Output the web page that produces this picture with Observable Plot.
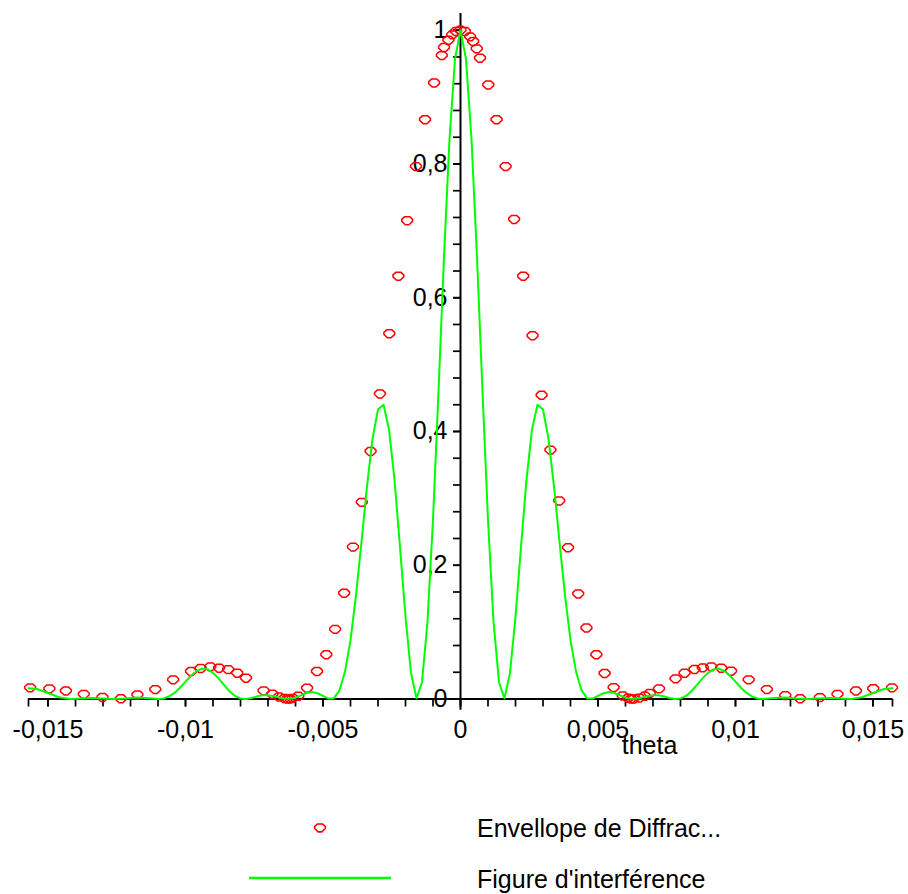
<!DOCTYPE html>
<html><head><meta charset="utf-8">
<script src="https://cdn.jsdelivr.net/npm/d3@7"></script>
<script src="https://cdn.jsdelivr.net/npm/@observablehq/plot@0.6"></script>
<style>
body{margin:0;background:#fff;font-family:"Liberation Sans",Arial,sans-serif;}
#legend{position:relative;width:908px;height:124px;}
.lg{position:absolute;font-size:25px;line-height:1;color:#000;white-space:nowrap;}
</style></head><body>
<div id="chart"></div>
<div id="legend">
  <svg style="position:absolute;left:0;top:0" width="908" height="124">
    <path d="M-2.6,-4L2.6,-4L5.4,-1.4L5.4,0.5L1.8,3.9L-1.8,3.9L-5.4,0.5L-5.4,-1.4Z" transform="translate(320,58)" fill="none" stroke="#ff0000" stroke-width="1.6"/>
    <line x1="249" x2="391" y1="108" y2="108" stroke="#00ff00" stroke-width="2.6"/>
  </svg>
  <div class="lg" style="left:477px;top:46px">Envellope de Diffrac...</div>
  <div class="lg" style="left:477px;top:97px">Figure d'interférence</div>
</div>
<script>
// ---- data ----
const thetaRed = [-0.01565,-0.01495,-0.01435,-0.0137,-0.01302,-0.01235,-0.01175,-0.0111,-0.01045,-0.0098,-0.00945,-0.0091,-0.00878,-0.00845,-0.00812,-0.0078,-0.00716,-0.00684,-0.0066,-0.0064,-0.0063,-0.0062,-0.0061,-0.0059,-0.00558,-0.00522,-0.00488,-0.00456,-0.00423,-0.00391,-0.00359,-0.00327,-0.00293,-0.00259,-0.00226,-0.00194,-0.00162,-0.00129,-0.00096,-0.00068,-0.0006,-0.00044,-0.0003,-0.00016,0,0.00016,0.00035,0.00046,0.00059,0.00071,0.00101,0.00131,0.00164,0.00195,0.00228,0.00262,0.00295,0.00327,0.00359,0.00391,0.00428,0.00458,0.00494,0.00524,0.00557,0.0059,0.0061,0.0062,0.0063,0.0065,0.0067,0.00688,0.00722,0.00782,0.00815,0.00851,0.00881,0.00912,0.00948,0.00984,0.01048,0.01114,0.01181,0.01235,0.01307,0.01371,0.01438,0.01501,0.01569];
const envelopeRed = [0.0165,0.015,0.0118,0.0068,0.0022,0.0002,0.006,0.014,0.0285,0.041,0.0455,0.048,0.046,0.0438,0.0385,0.031,0.012,0.007,0.003,0.0006,0,0,0.0008,0.004,0.016,0.041,0.066,0.104,0.158,0.227,0.294,0.37,0.456,0.546,0.632,0.715,0.796,0.866,0.921,0.962,0.974,0.985,0.993,0.998,1,0.998,0.99,0.983,0.972,0.958,0.918,0.866,0.796,0.717,0.632,0.543,0.454,0.372,0.296,0.226,0.157,0.106,0.066,0.038,0.017,0.0045,0.001,0,0,0.0012,0.004,0.0082,0.015,0.03,0.0385,0.044,0.0465,0.048,0.046,0.0415,0.0285,0.014,0.005,0.0002,0.002,0.0068,0.0118,0.0152,0.0165];

const thetaGreen = [-0.01571,-0.0154,-0.015,-0.0146,-0.0142,-0.0138,-0.0134,-0.013,-0.0126,-0.0122,-0.0118,-0.0114,-0.011,
-0.0108,-0.0106,-0.0104,-0.0102,-0.01,-0.0098,-0.0096,-0.0094,-0.0092,-0.009,-0.0088,-0.0086,-0.0084,-0.0082,-0.008,-0.0078,-0.0076,-0.0074,-0.0072,-0.007,-0.0068,-0.0066,-0.0064,-0.0062,-0.006,-0.0058,-0.0056,-0.0054,-0.0052,-0.005,-0.0048,-0.0046,-0.0044,-0.0042,-0.004,-0.0038,-0.0036,-0.0034,-0.0032,-0.003,-0.0028,-0.0026,-0.0024,-0.0022,-0.002,-0.0018,-0.0016,-0.0014,-0.0012,-0.001,-0.0008,-0.0006,-0.0004,-0.0002,
0,
0.0002,0.0004,0.0006,0.0008,0.001,0.0012,0.0014,0.0016,0.0018,0.002,0.0022,0.0024,0.0026,0.0028,0.003,0.0032,0.0034,0.0036,0.0038,0.004,0.0042,0.0044,0.0046,0.0048,0.005,0.0052,0.0054,0.0056,0.0058,0.006,0.0062,0.0064,0.0066,0.0068,0.007,0.0072,0.0074,0.0076,0.0078,0.008,0.0082,0.0084,0.0086,0.0088,0.009,0.0092,0.0094,0.0096,0.0098,0.01,0.0102,0.0104,0.0106,0.0108,
0.011,0.0114,0.0118,0.0122,0.0126,0.013,0.0134,0.0138,0.0142,0.0146,0.015,0.0154,0.01571];
const interferenceGreen = [0.0162,0.0149,0.009,0.0027,0,0.0008,0.0016,0.0009,0,0.0008,0.0021,0.0014,0,
0.0009,0.0038,0.0091,0.0168,0.0259,0.0348,0.0418,0.0455,0.0443,0.0392,0.0308,0.021,0.0116,0.0046,0.0008,0.0001,0.0016,0.0039,0.0056,0.0057,0.0043,0.0021,0.0003,0.0002,0.002,0.0055,0.009,0.0105,0.0086,0.0046,0.0006,0.0013,0.013,0.041,0.088,0.155,0.235,0.318,0.389,0.433,0.44,0.403,0.328,0.227,0.123,0.039,0.001,0.025,0.116,0.268,0.46,0.661,0.837,0.957,
1,
0.957,0.837,0.661,0.46,0.268,0.116,0.025,0.001,0.039,0.123,0.227,0.328,0.403,0.44,0.433,0.389,0.318,0.235,0.155,0.088,0.041,0.013,0.0013,0.0006,0.0046,0.0086,0.0105,0.009,0.0055,0.002,0.0002,0.0003,0.0021,0.0043,0.0057,0.0056,0.0039,0.0016,0.0001,0.0008,0.0046,0.0116,0.021,0.0308,0.0392,0.0443,0.0455,0.0418,0.0348,0.0259,0.0168,0.0091,0.0038,0.0009,
0,0.0014,0.0021,0.0008,0,0.0009,0.0016,0.0008,0,0.0027,0.009,0.0149,0.0162];

const xTickLabels = [-0.015,-0.01,-0.005,0,0.005,0.01,0.015];
const xDomain = [-0.01571, 0.01571];
const xMinorTicks = [xDomain[0], ...d3.range(-15, 16).map(k => k / 1000), xDomain[1]];
const yTickLabels = [0,0.2,0.4,0.6,0.8,1];
const yMinorTicks = d3.range(0, 26).map(k => k * 0.04);
const yDomain = [0, 1.025];
const yAxisBottom = -0.017;

// ---- build tables ----
const redData = thetaRed.map((t, i) => ({theta: t, v: envelopeRed[i]}));
const greenData = thetaGreen.map((t, i) => ({theta: t, v: interferenceGreen[i]}));

const W = 908, H = 770, mL = 28, mR = 16, mT = 13, mB = 71.5;
const yAxisDx = (0 - xDomain[0]) / (xDomain[1] - xDomain[0]) * (W - mL - mR);
const fmt = d => String(d).replace(".", ",");

const mapleSymbol = {draw(ctx) {
  ctx.moveTo(-2.6,-4); ctx.lineTo(2.6,-4); ctx.lineTo(5.4,-1.4); ctx.lineTo(5.4,0.5);
  ctx.lineTo(1.8,3.9); ctx.lineTo(-1.8,3.9); ctx.lineTo(-5.4,0.5); ctx.lineTo(-5.4,-1.4); ctx.closePath();
}};

const chart = Plot.plot({
  width: W, height: H,
  marginLeft: mL, marginRight: mR, marginTop: mT, marginBottom: mB,
  style: {fontFamily: '"Liberation Sans", Arial, sans-serif', fontSize: "25px", background: "#fff", color: "#000"},
  x: {domain: xDomain},
  y: {domain: yDomain},
  marks: [
    Plot.axisX(xMinorTicks, {tickSize: 8, tickFormat: () => "", strokeWidth: 1.7, label: null}),
    Plot.axisX(xTickLabels, {tickSize: 8, tickPadding: 13, tickFormat: fmt, fontSize: 25, strokeWidth: 1.7, label: null}),
    Plot.axisY(yMinorTicks, {anchor: "left", dx: yAxisDx, tickSize: 7, tickFormat: () => "", strokeWidth: 1.7, label: null}),
    Plot.axisY(yTickLabels, {anchor: "left", dx: yAxisDx, tickSize: 7, tickPadding: 6, tickFormat: fmt, fontSize: 25, strokeWidth: 1.7, label: null}),
    Plot.ruleY([0], {stroke: "#000", strokeWidth: 2}),
    Plot.ruleX([0], {y1: yAxisBottom, y2: yDomain[1], stroke: "#000", strokeWidth: 2}),
    Plot.dot(redData, {x: "theta", y: "v", symbol: mapleSymbol, fill: "none", stroke: "#ff0000", strokeWidth: 1.5}),
    Plot.line(greenData, {x: "theta", y: "v", stroke: "#00ff00", strokeWidth: 2}),
    Plot.text(["theta"], {text: d => d, frameAnchor: "bottom", dx: 189, dy: 55, fontSize: 25})
  ]
});
document.getElementById("chart").appendChild(chart);
</script>
</body></html>
